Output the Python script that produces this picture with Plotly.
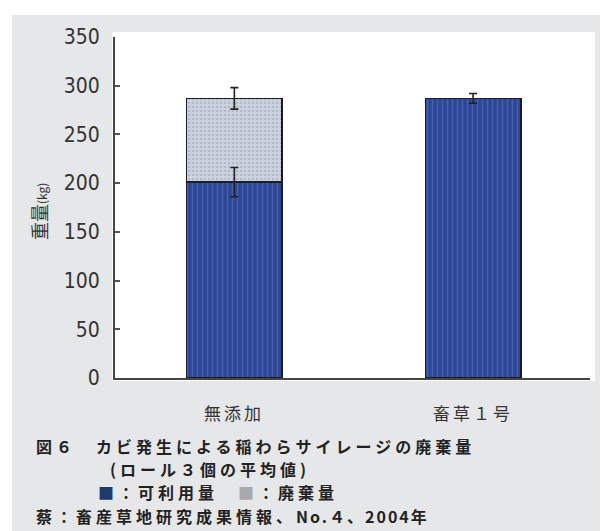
import plotly.graph_objects as go

categories = ["無添加", "畜草１号"]
usable = [201, 287]          # 可利用量 (kg)
waste = [86, 0]              # 廃棄量 (kg)
usable_err = [15, 0]
total_err = [11, 5]
y_ticks = [0, 50, 100, 150, 200, 250, 300, 350]

W, H = 608, 531
L, R, T, B = 107, 26, 29, 161
pw, ph = W - L - R, H - T - B

def px(x):
    return (x - L) / pw

def py(y):
    return (H - B - y) / ph

def spaced(t, sp=4):
    return f"<span style='letter-spacing:{sp}px'>{t}</span>"

caption_lines = [
    spaced("図６　カビ発生による稲わらサイレージの廃棄量"),
    spaced("(ロール３個の平均値)"),
    spaced("<span style='color:#1f3a6b'>■</span>：可利用量　<span style='color:#a7a9ac'>■</span>：廃棄量"),
    spaced("蔡：畜産草地研究成果情報、") + spaced("No.４、2004年", 2),
]

totals = [u + w for u, w in zip(usable, waste)]

fig = go.Figure()
fig.add_trace(go.Bar(
    x=categories, y=usable, width=0.4, name="可利用量",
    marker=dict(color="#2d4a9b",
                line=dict(color="#1c1c28", width=1.5),
                pattern=dict(shape="|", fgcolor="#6478c0", bgcolor="#2b4796",
                             size=5, solidity=0.3)),
))
fig.add_trace(go.Bar(
    x=categories, y=waste, width=0.4, name="廃棄量",
    marker=dict(color="#c5cbd8",
                line=dict(color="#1c1c28", width=1.5),
                pattern=dict(shape=".", fgcolor="#98a0b4", bgcolor="#cdd3de",
                             size=4, solidity=0.35)),
))
# error bars drawn on top
fig.add_trace(go.Scatter(
    x=categories[:1], y=usable[:1], mode="markers",
    marker=dict(size=1, opacity=0),
    error_y=dict(type="data", array=usable_err[:1], color="#222", thickness=1.6, width=4),
    showlegend=False, hoverinfo="skip",
))
fig.add_trace(go.Scatter(
    x=categories, y=totals, mode="markers",
    marker=dict(size=1, opacity=0),
    error_y=dict(type="data", array=total_err, color="#222", thickness=1.6, width=4),
    showlegend=False, hoverinfo="skip",
))

shapes = [
    dict(type="rect", xref="paper", yref="paper", layer="below",
         x0=px(4), x1=px(W), y0=py(7), y1=py(H), fillcolor="#e6e7e8", line=dict(width=0)),
    dict(type="rect", xref="paper", yref="paper", layer="below",
         x0=px(104), x1=px(587), y0=py(24), y1=py(373), fillcolor="#ffffff", line=dict(width=0)),
]

annotations = []
for c in categories:
    annotations.append(dict(x=c, xref="x", y=py(405), yref="paper", text=spaced(c, 3),
                            showarrow=False, xanchor="center", yanchor="middle",
                            font=dict(family="Noto Sans CJK JP", size=17, color="#333")))
annotations.append(dict(x=px(31), y=py(204), xref="paper", yref="paper",
                        text="重量<span style='font-size:12px'>(kg)</span>", textangle=-90,
                        showarrow=False, xanchor="center", yanchor="middle",
                        font=dict(family="Noto Sans CJK JP", size=18, color="#333")))
cap_pos = [(26, 438), (100, 461), (88, 484), (26, 508)]
for (x, y), t in zip(cap_pos, caption_lines):
    annotations.append(dict(x=px(x), y=py(y), xref="paper", yref="paper", text=t,
                            showarrow=False, xanchor="left", yanchor="middle",
                            font=dict(family="Noto Sans CJK JP", size=16, color="#222",
                                      weight="bold")))

fig.update_layout(
    width=W, height=H, barmode="stack", showlegend=False,
    margin=dict(l=L, r=R, t=T, b=B, pad=0),
    paper_bgcolor="#ffffff", plot_bgcolor="rgba(0,0,0,0)",
    shapes=shapes, annotations=annotations,
    xaxis=dict(range=[-0.5, 1.49], showline=True, linecolor="#444", linewidth=2,
               ticks="", showticklabels=False, showgrid=False, zeroline=False),
    yaxis=dict(range=[0, 350], tickvals=y_ticks, showline=True, linecolor="#444", linewidth=2,
               ticks="inside", ticklen=5, tickwidth=1.5, tickcolor="#555",
               showgrid=False, zeroline=False, ticklabelstandoff=9,
               tickfont=dict(family="Liberation Sans Narrow, DejaVu Sans Condensed, sans-serif",
                             size=21, color="#333")),
)

fig.write_html("out.html")
